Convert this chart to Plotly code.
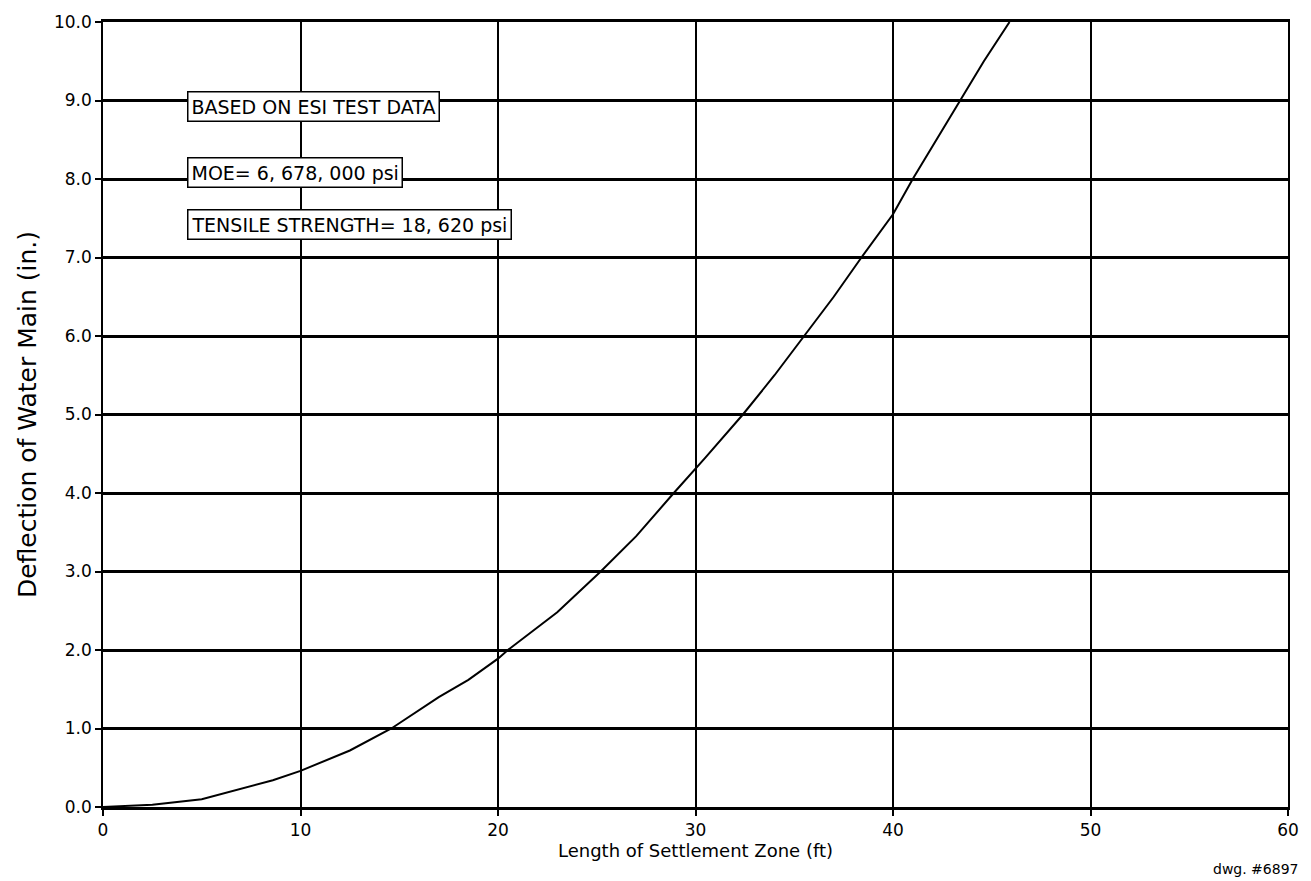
import plotly.graph_objects as go

# Data
length_ft = [0, 2.5, 5, 8.6, 10, 12.5, 14.6, 17, 18.5, 20, 20.5, 23, 25.2, 27, 28.9, 30.5, 32.4, 34, 35.5, 37, 38.4, 40, 41, 42.2, 43.4, 44.6, 45.9]
deflection_in = [0, 0.03, 0.10, 0.34, 0.46, 0.72, 1.0, 1.4, 1.62, 1.89, 2.0, 2.48, 3.0, 3.45, 4.0, 4.45, 5.0, 5.5, 6.0, 6.5, 7.0, 7.55, 8.0, 8.5, 9.0, 9.5, 10.0]

x_ticks = [0, 10, 20, 30, 40, 50, 60]
y_ticks = [0, 1, 2, 3, 4, 5, 6, 7, 8, 9, 10]
y_tick_text = ["0.0", "1.0", "2.0", "3.0", "4.0", "5.0", "6.0", "7.0", "8.0", "9.0", "10.0"]

notes = ["BASED ON ESI TEST DATA", "MOE= 6, 678, 000 psi", "TENSILE STRENGTH= 18, 620 psi"]
note_y = [8.92, 8.08, 7.42]

FONT = "DejaVu Sans"

fig = go.Figure()
fig.add_trace(go.Scatter(x=length_ft, y=deflection_in, mode="lines",
                         line=dict(color="black", width=2), showlegend=False,
                         hoverinfo="skip"))

for txt, yv in zip(notes, note_y):
    fig.add_annotation(x=4.25, y=yv, xref="x", yref="y", text=txt, showarrow=False,
                       xanchor="left", yanchor="middle",
                       font=dict(family=FONT, size=19, color="black"),
                       bgcolor="white", bordercolor="black", borderwidth=1.5, borderpad=3)

fig.add_annotation(x=1.0, y=-0.079, xref="paper", yref="paper", text="dwg. #6897",
                   showarrow=False, xanchor="right", yanchor="middle", xshift=12,
                   font=dict(family=FONT, size=14, color="black"))

fig.update_layout(
    width=1311, height=881,
    margin=dict(l=103, r=15, t=22, b=74),
    paper_bgcolor="white", plot_bgcolor="white",
    font=dict(family=FONT, color="black"),
    xaxis=dict(range=[0, 60], tickvals=x_ticks, ticks="outside", ticklen=6, tickwidth=1.5,
               tickcolor="black", showgrid=True, gridcolor="black", gridwidth=1.5,
               zeroline=False, showline=True, mirror=True, linecolor="black", linewidth=2.5,
               tickfont=dict(family=FONT, size=17, color="black"),
               title=dict(text="Length of Settlement Zone (ft)", standoff=0,
                          font=dict(family=FONT, size=18, color="black"))),
    yaxis=dict(range=[0, 10], tickvals=y_ticks, ticktext=y_tick_text, ticks="outside",
               ticklen=6, tickwidth=1.5, tickcolor="black", showgrid=True, gridcolor="black",
               gridwidth=2.5, zeroline=False, showline=True, mirror=True, linecolor="black",
               linewidth=1.5,
               tickfont=dict(family=FONT, size=17, color="black"),
               title=dict(text="Deflection of Water Main (in.)", standoff=10,
                          font=dict(family=FONT, size=25, color="black"))),
)

fig.write_html("out.html")
